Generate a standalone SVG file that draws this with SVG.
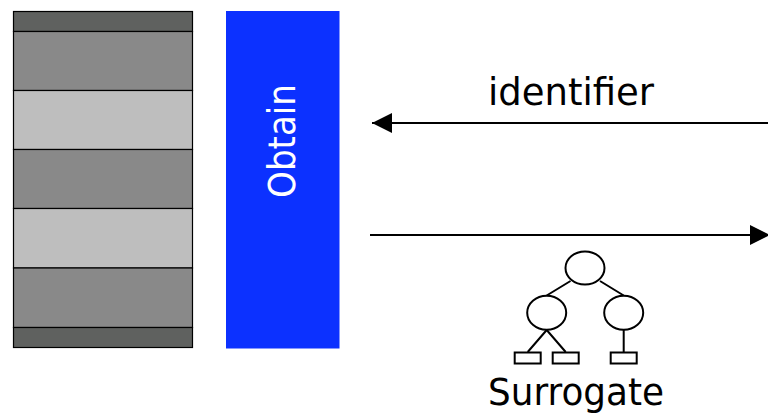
<svg xmlns="http://www.w3.org/2000/svg" width="768" height="418" viewBox="0 0 768 418">
  <style>
    .dark { fill: #5f615f; stroke: #000; stroke-width: 1.2; }
    .mid { fill: #898989; stroke: #000; stroke-width: 1.2; }
    .light { fill: #bebebe; stroke: #000; stroke-width: 1.2; }
    .conn { stroke: #000; stroke-width: 2; fill: none; }
    .tree { stroke: #000; stroke-width: 2; fill: #fff; }
    .label { font-family: "DejaVu Sans", "Noto Sans", sans-serif; font-size: 37px; fill: #000; }
  </style>
  <defs>
    <marker id="head" markerUnits="userSpaceOnUse" markerWidth="21" markerHeight="21" refX="20" refY="10.5" orient="auto-start-reverse">
      <path d="M0 0.5 L20 10.5 L0 20.5 Z" fill="#000"/>
    </marker>
  </defs>
  <g id="stack">
    <rect class="dark" x="13.5" y="11.5" width="179" height="20"/>
    <rect class="mid" x="13.5" y="31.5" width="179" height="59"/>
    <rect class="light" x="13.5" y="90.5" width="179" height="59"/>
    <rect class="mid" x="13.5" y="149.5" width="179" height="59"/>
    <rect class="light" x="13.5" y="208.5" width="179" height="59.500"/>
    <rect class="mid" x="13.5" y="268" width="179" height="59.500"/>
    <rect class="dark" x="13.5" y="327.500" width="179" height="20"/>
  </g>
  <g id="obtain">
    <rect x="226" y="11" width="113.500" height="337.500" fill="#0c31ff"/>
    <text class="label" transform="translate(295 198) rotate(-90)" textLength="114" lengthAdjust="spacingAndGlyphs" style="fill:#fff">Obtain</text>
  </g>
  <g id="connectors">
    <line class="conn" x1="768" y1="123" x2="372" y2="123" marker-end="url(#head)"/>
    <line class="conn" x1="370" y1="235" x2="770" y2="235" marker-end="url(#head)"/>
  </g>
  <text id="identifier" class="label" x="488" y="105" textLength="166" lengthAdjust="spacingAndGlyphs">identifier</text>
  <g id="surrogate">
    <g id="tree-edges">
      <path class="conn" d="M570.500 281 L546.700 295.500 M600 281 L623.700 295.500 M546.700 330 L527.700 352 M546.700 330 L565.700 352 M623.700 330 V352"/>
    </g>
    <ellipse class="tree" cx="585" cy="268" rx="19.500" ry="16.500"/>
    <ellipse class="tree" cx="546.700" cy="312.700" rx="19.500" ry="17"/>
    <ellipse class="tree" cx="623.700" cy="312.700" rx="19.500" ry="17"/>
    <rect class="tree" x="514.700" y="352.500" width="26" height="11"/>
    <rect class="tree" x="552.700" y="352.500" width="26" height="11"/>
    <rect class="tree" x="610.700" y="352.500" width="26" height="11"/>
    <text class="label" x="488" y="405" textLength="176" lengthAdjust="spacingAndGlyphs">Surrogate</text>
  </g>
</svg>
